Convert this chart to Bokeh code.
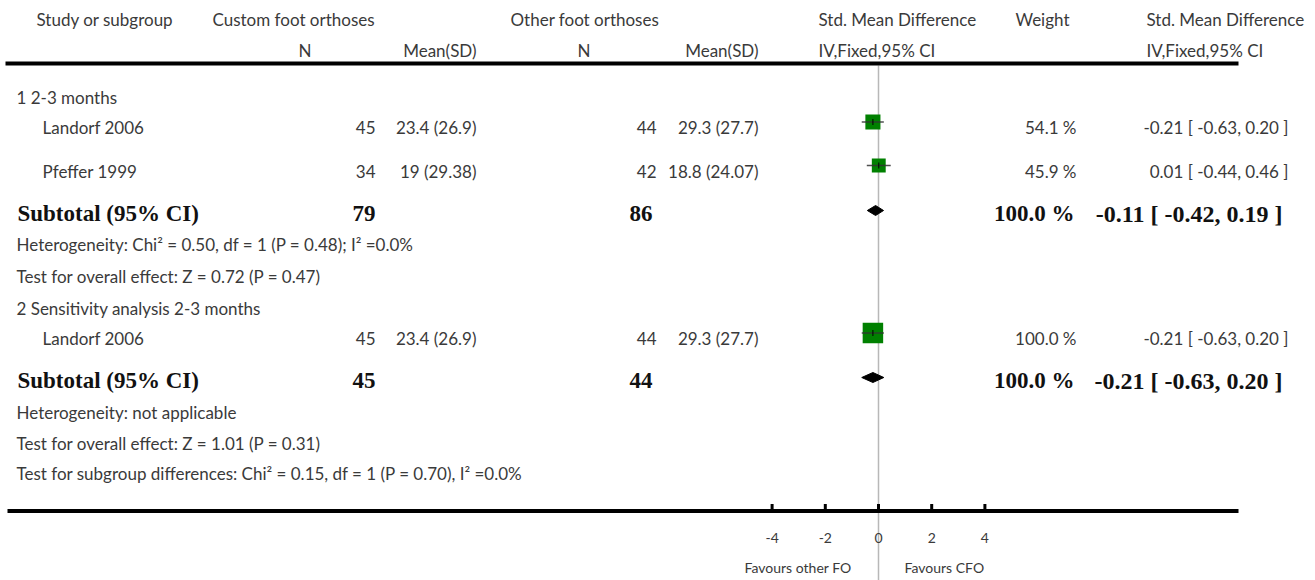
from bokeh.plotting import figure
from bokeh.models import ColumnDataSource, Range1d
from bokeh.core.properties import value
from bokeh.embed import file_html
from bokeh.resources import INLINE

# ---------------- data ----------------
header_top = ["Study or subgroup", "Custom foot orthoses", "Other foot orthoses",
              "Std. Mean Difference", "Weight", "Std. Mean Difference"]
header_sub = ["N", "Mean(SD)", "N", "Mean(SD)", "IV,Fixed,95% CI", "IV,Fixed,95% CI"]

group_labels = ["1 2-3 months", "2 Sensitivity analysis 2-3 months"]

studies = ["Landorf 2006", "Pfeffer 1999", "Landorf 2006"]
cfo_n = [45, 34, 45]
cfo_mean_sd = ["23.4 (26.9)", "19 (29.38)", "23.4 (26.9)"]
ofo_n = [44, 42, 44]
ofo_mean_sd = ["29.3 (27.7)", "18.8 (24.07)", "29.3 (27.7)"]
smd = [-0.21, 0.01, -0.21]
smd_lo = [-0.63, -0.44, -0.63]
smd_hi = [0.20, 0.46, 0.20]
weight = [54.1, 45.9, 100.0]

sub_label = ["Subtotal (95% CI)", "Subtotal (95% CI)"]
sub_cfo_n = [79, 45]
sub_ofo_n = [86, 44]
sub_smd = [-0.11, -0.21]
sub_lo = [-0.42, -0.63]
sub_hi = [0.19, 0.20]
sub_weight = [100.0, 100.0]

notes = ["Heterogeneity: Chi² = 0.50, df = 1 (P = 0.48); I² =0.0%",
         "Test for overall effect: Z = 0.72 (P = 0.47)",
         "Heterogeneity: not applicable",
         "Test for overall effect: Z = 1.01  (P = 0.31)",
         "Test for subgroup differences: Chi² = 0.15, df = 1 (P = 0.70), I² =0.0%"]

axis_ticks = [-4, -2, 0, 2, 4]
favours = ["Favours other FO", "Favours CFO"]

# ---------------- layout (image pixels) ----------------
W, H = 1315, 580
ZERO_X = 878.0
PX_PER_UNIT = 26.6

def eff(px):
    return (px - ZERO_X) / PX_PER_UNIT

FONT = "Lato"
SERIF = "Liberation Serif"
TXT = "#3a3a3a"
FS = "17px"
BS = "23px"
DY = -6    # baseline correction for sans text
DYB = -7   # baseline correction for bold serif text

p = figure(width=W, height=H, output_backend="svg", toolbar_location=None,
           x_range=Range1d(0, W), y_range=Range1d(H, 0),
           x_axis_location=None, y_axis_location=None, min_border=0)
p.outline_line_color = None
p.xgrid.visible = False
p.ygrid.visible = False
p.extra_x_ranges = {"eff": Range1d(eff(0), eff(W))}

def txt(xs, ys, texts, align="left", size=FS, font=FONT, bold=False, x_range_name="default"):
    dy = DYB if bold else DY
    src = ColumnDataSource(dict(x=xs, y=[y + dy for y in ys], t=texts))
    p.text(x="x", y="y", text="t", source=src, text_align=align,
           text_baseline="alphabetic", text_font=value(font),
           text_font_size=size, text_color="#111111" if bold else TXT,
           text_font_style="bold" if bold else "normal", x_range_name=x_range_name)

# zero line (drawn first, underneath)
p.segment(x0=[0], y0=[65], x1=[0], y1=[H], x_range_name="eff",
          line_color="#b8b8b8", line_width=1.5)

# header
hx = [36, 212, 510, 818, 1015, 1146]
txt(hx, [25] * 6, header_top)
txt([311, 476, 590, 758], [56] * 4, header_sub[:4], align="right")
txt([818, 1146], [56] * 2, header_sub[4:])
p.segment(x0=[5], y0=[63], x1=[1238], y1=[63], line_color="black", line_width=4)

# group rows
group_y = [103, 314]
txt([16] * 2, group_y, group_labels)

# study rows
study_y = [133, 177, 344]
mark_y = [121.5, 165, 332.5]
txt([42] * 3, study_y, studies)
txt([375] * 3, study_y, [str(v) for v in cfo_n], align="right")
txt([476] * 3, study_y, cfo_mean_sd, align="right")
txt([656] * 3, study_y, [str(v) for v in ofo_n], align="right")
txt([758] * 3, study_y, ofo_mean_sd, align="right")
txt([1076] * 3, study_y, ["%.1f %%" % w for w in weight], align="right")
txt([1288] * 3, study_y,
    ["%.2f [ %.2f, %.2f ]" % (m, l, h) for m, l, h in zip(smd, smd_lo, smd_hi)], align="right")

# subtotal rows
sub_y = [220, 387]
diamond_y = [210, 377]
txt([17] * 2, sub_y, sub_label, size=BS, font=SERIF, bold=True)
txt([375] * 2, sub_y, [str(v) for v in sub_cfo_n], align="right", size=BS, font=SERIF, bold=True)
txt([652] * 2, sub_y, [str(v) for v in sub_ofo_n], align="right", size=BS, font=SERIF, bold=True)
txt([1074] * 2, sub_y, ["%.1f %%" % w for w in sub_weight], align="right", size=BS, font=SERIF, bold=True)
txt([1282] * 2, sub_y,
    ["%.2f [ %.2f, %.2f ]" % (m, l, h) for m, l, h in zip(sub_smd, sub_lo, sub_hi)],
    align="right", size="24px", font=SERIF, bold=True)

# notes
txt([16] * 5, [250, 282, 418, 449, 479], notes)

# squares + CIs
sizes = [2.05 * w ** 0.5 for w in weight]
sq = ColumnDataSource(dict(x=smd, y=mark_y, s=sizes, lo=smd_lo, hi=smd_hi,
                           t0=[y - 3 for y in mark_y], t1=[y + 3 for y in mark_y]))
p.rect(x="x", y="y", width="s", height="s", width_units="screen", height_units="screen",
       source=sq, fill_color="#008000", line_color=None, x_range_name="eff")
p.segment(x0="lo", y0="y", x1="hi", y1="y", source=sq, line_color="#333333",
          line_width=1.5, line_alpha=0.85, x_range_name="eff")
p.segment(x0="x", y0="t0", x1="x", y1="t1", source=sq, line_color="black",
          line_width=1, x_range_name="eff")

# diamonds
dxs = [[l, m, h, m] for l, m, h in zip(sub_lo, sub_smd, sub_hi)]
dys = [[y, y - 5, y, y + 5] for y in diamond_y]
p.patches(xs=dxs, ys=dys, fill_color="black", line_color="black", x_range_name="eff")

# effect axis (line, ticks, labels) on the effect scale
AXIS_Y = 510.5
p.segment(x0=[7], y0=[AXIS_Y], x1=[1238], y1=[AXIS_Y], line_color="black", line_width=4)
p.segment(x0=axis_ticks, y0=[AXIS_Y - 7] * len(axis_ticks), x1=axis_ticks,
          y1=[AXIS_Y] * len(axis_ticks), x_range_name="eff", line_color="black", line_width=3)
tick_src = ColumnDataSource(dict(x=axis_ticks, y=[543 + DY] * len(axis_ticks),
                                 t=[str(t) for t in axis_ticks]))
p.text(x="x", y="y", text="t", source=tick_src, x_range_name="eff", text_align="center",
       text_baseline="alphabetic", text_font=value(FONT), text_font_size="14px",
       text_color=TXT)

txt([851], [573], [favours[0]], align="right", size="14px")
txt([904], [573], [favours[1]], align="left", size="14px")

open("out.html", "w").write(file_html(p, INLINE))
